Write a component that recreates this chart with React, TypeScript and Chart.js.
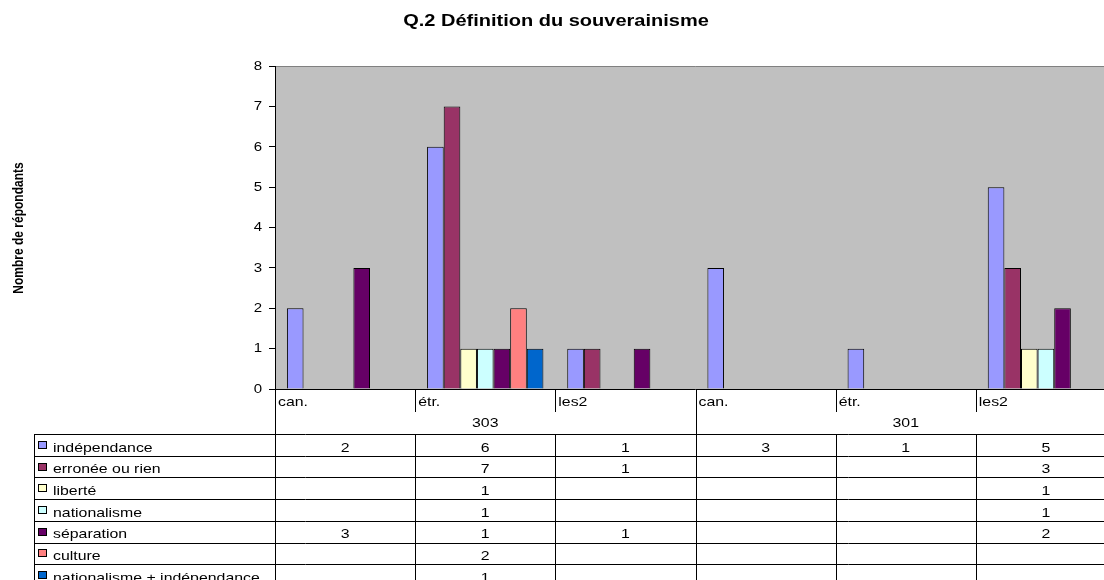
import React, { useEffect, useRef } from "react";
import { Chart, registerables } from "chart.js";

Chart.register(...registerables);

// ---- data ----
const categories = ["can.", "étr.", "les2", "can.", "étr.", "les2"];
const groupLabels = ["303", "301"];
const groupSizes = [3, 3];
const seriesNames = [
  "indépendance",
  "erronée ou rien",
  "liberté",
  "nationalisme",
  "séparation",
  "culture",
  "nationalisme + indépendance",
];
const independance = [2, 6, 1, 3, 1, 5];
const erronee = [null, 7, 1, null, null, 3];
const liberte = [null, 1, null, null, null, 1];
const nationalisme = [null, 1, null, null, null, 1];
const separation = [3, 1, 1, null, null, 2];
const culture = [null, 2, null, null, null, null];
const nationalismeIndependance = [null, 1, null, null, null, null];
const seriesColors = ["#9999FF", "#993366", "#FFFFCC", "#CCFFFF", "#660066", "#FF8080", "#0066CC"];
const yTicks = [0, 1, 2, 3, 4, 5, 6, 7, 8];
const chartTitle = "Q.2 Définition du souverainisme";
const yTitle = "Nombre de répondants";

const seriesValues = [independance, erronee, liberte, nationalisme, separation, culture, nationalismeIndependance];

const FONT = "'Liberation Sans', Arial, sans-serif";
const SX = 1.22;

function sText(ctx: CanvasRenderingContext2D, text: string, x: number, y: number, align: CanvasTextAlign, sx: number) {
  ctx.save();
  ctx.translate(x, y);
  ctx.scale(sx, 1);
  ctx.textAlign = align;
  ctx.fillText(text, 0, 0);
  ctx.restore();
}

function hLine(ctx: CanvasRenderingContext2D, x1: number, x2: number, y: number) {
  const yy = Math.round(y) + 0.5;
  ctx.beginPath();
  ctx.moveTo(x1, yy);
  ctx.lineTo(x2, yy);
  ctx.stroke();
}
function vLine(ctx: CanvasRenderingContext2D, x: number, y1: number, y2: number) {
  const xx = Math.round(x) + 0.5;
  ctx.beginPath();
  ctx.moveTo(xx, y1);
  ctx.lineTo(xx, y2);
  ctx.stroke();
}

const TABLE_LEFT = 34;
const TABLE_TOP = 434;
const ROW_H = 21.7;

const excelPlugin = {
  id: "excelPlugin",
  beforeDraw(chart: any) {
    const { ctx, chartArea } = chart;
    ctx.save();
    ctx.fillStyle = "#fff";
    ctx.fillRect(0, 0, chart.width, chart.height);
    ctx.fillStyle = "#C0C0C0";
    ctx.fillRect(chartArea.left, chartArea.top, chartArea.right - chartArea.left, chartArea.bottom - chartArea.top);
    ctx.strokeStyle = "#808080";
    ctx.lineWidth = 1;
    hLine(ctx, chartArea.left, chartArea.right, chartArea.top);
    ctx.restore();
  },
  afterDraw(chart: any) {
    const { ctx, chartArea } = chart;
    const xs = chart.scales.x;
    const ys = chart.scales.y;
    const n = categories.length;
    const colW = (xs.right - xs.left) / n;
    const edge = (i: number) => (i < n ? xs.getPixelForValue(i) - colW / 2 : xs.getPixelForValue(n - 1) + colW / 2);
    const center = (i: number) => xs.getPixelForValue(i);
    const bottom = chart.height;

    ctx.save();
    ctx.fillStyle = "#000";
    ctx.strokeStyle = "#000";
    ctx.lineWidth = 1;

    // main title
    ctx.font = `bold 16px ${FONT}`;
    ctx.textBaseline = "alphabetic";
    sText(ctx, chartTitle, 556, 26, "center", 1.25);

    // y title (rotated)
    ctx.save();
    ctx.font = `bold 12px ${FONT}`;
    ctx.translate(19, 228);
    ctx.scale(1.25, 1);
    ctx.rotate(-Math.PI / 2);
    ctx.textAlign = "center";
    ctx.textBaseline = "middle";
    ctx.fillText(yTitle, 0, 0);
    ctx.restore();

    // y tick labels
    ctx.font = `12px ${FONT}`;
    ctx.textBaseline = "middle";
    yTicks.forEach((v) => {
      sText(ctx, String(v), chartArea.left - 13, ys.getPixelForValue(v) + 0.5, "right", 1.25);
    });

    // x axis line
    hLine(ctx, chartArea.left, chartArea.right, chartArea.bottom);
    // y axis extension
    vLine(ctx, chartArea.left, chartArea.bottom, bottom);

    // category separators + labels
    const groupEdges = new Set<number>();
    let acc = 0;
    groupSizes.forEach((s) => {
      acc += s;
      groupEdges.add(acc);
    });
    ctx.font = `13px ${FONT}`;
    ctx.textBaseline = "alphabetic";
    for (let i = 0; i < n; i++) {
      if (i > 0) {
        if (groupEdges.has(i)) vLine(ctx, edge(i), chartArea.bottom, bottom);
        else vLine(ctx, edge(i), chartArea.bottom, chartArea.bottom + 23);
      }
      sText(ctx, categories[i], edge(i) + 3, chartArea.bottom + 17, "left", SX);
    }
    // group labels
    let start = 0;
    groupSizes.forEach((s, g) => {
      const cx = (edge(start) + edge(start + s)) / 2;
      sText(ctx, groupLabels[g], cx, chartArea.bottom + 38, "center", SX);
      start += s;
    });

    // data table
    const rows = seriesNames.length;
    for (let r = 0; r <= rows; r++) {
      hLine(ctx, TABLE_LEFT, chart.width, TABLE_TOP + r * ROW_H);
    }
    vLine(ctx, TABLE_LEFT, TABLE_TOP, bottom);
    for (let i = 1; i <= n; i++) {
      if (!groupEdges.has(i)) vLine(ctx, edge(i), TABLE_TOP, bottom);
    }
    for (let r = 0; r < rows; r++) {
      const top = TABLE_TOP + r * ROW_H;
      const cy = top + ROW_H / 2;
      // legend key
      ctx.fillStyle = seriesColors[r];
      ctx.fillRect(38, Math.round(cy) - 4, 9, 8);
      ctx.strokeStyle = "#000";
      ctx.strokeRect(38.5, Math.round(cy) - 3.5, 8, 7);
      ctx.fillStyle = "#000";
      sText(ctx, seriesNames[r], 53, top + 17.5, "left", SX);
      const vals = seriesValues[r];
      for (let c = 0; c < n; c++) {
        const v = vals[c];
        if (v !== null && v !== undefined) {
          sText(ctx, String(v), center(c), top + 17.5, "center", SX);
        }
      }
    }
    ctx.restore();
  },
};

export default function App() {
  const ref = useRef<HTMLCanvasElement | null>(null);
  useEffect(() => {
    if (!ref.current) return;
    const chart = new Chart(ref.current, {
      type: "bar",
      data: {
        labels: categories,
        datasets: seriesNames.map((name, i) => ({
          label: name,
          data: seriesValues[i] as any,
          backgroundColor: seriesColors[i],
          borderColor: "#000",
          borderWidth: 1,
          categoryPercentage: 0.83,
          barPercentage: 1,
        })),
      },
      options: {
        responsive: false,
        animation: false,
        devicePixelRatio: 1,
        layout: { padding: { top: 66, bottom: 191, left: 0, right: 4 } },
        plugins: {
          legend: { display: false },
          tooltip: { enabled: false },
          title: { display: false },
        },
        scales: {
          x: { display: false },
          y: {
            min: 0,
            max: 8,
            ticks: { stepSize: 1, display: false },
            grid: { drawOnChartArea: false, drawTicks: true, tickLength: 6, color: "#000" },
            border: { color: "#000", width: 1 },
            afterFit: (s: any) => {
              s.width = 275;
            },
          },
        },
      } as any,
      plugins: [excelPlugin],
    });
    return () => chart.destroy();
  }, []);
  return (
    <div style={{ position: "fixed", left: 0, top: 0, width: 1104, height: 580, overflow: "hidden", background: "#fff" }}>
      <canvas ref={ref} width={1120} height={580} style={{ display: "block" }} />
    </div>
  );
}
